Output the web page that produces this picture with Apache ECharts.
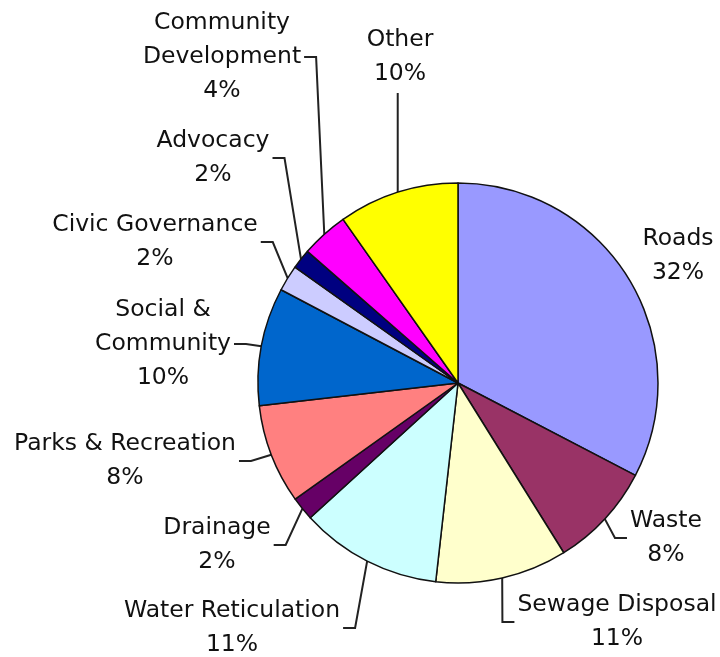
<!DOCTYPE html>
<html>
<head>
<meta charset="utf-8">
<script src="https://cdn.jsdelivr.net/npm/echarts@6/dist/echarts.min.js"></script>
<style>html,body{margin:0;padding:0;background:#fff}#c{width:720px;height:657px}</style>
</head>
<body>
<div id="c"></div>
<script>
// ---- data ----
var categories = ['Roads','Waste','Sewage Disposal','Water Reticulation','Drainage','Parks & Recreation','Social & Community','Civic Governance','Advocacy','Community Development','Other'];
var labelNames = ['Roads','Waste','Sewage Disposal','Water Reticulation','Drainage','Parks & Recreation','Social &\nCommunity','Civic Governance','Advocacy','Community\nDevelopment','Other'];
var shares = [32.49, 8.45, 10.6, 11.4, 1.9, 8.0, 9.5, 2.1, 1.6, 3.8, 9.7];

// ---- styles / layout ----
var colors = ['#9999FF','#993366','#FFFFCC','#CCFFFF','#660066','#FF8080','#0066CC','#CCCCFF','#000080','#FF00FF','#FFFF00'];
var labelAnchor = [[678,256],[666,538],[617,622],[232,628],[217,545],[125,461],[163,344],[155,242],[213,158],[222,57],[400,57]];
var labelSide = ['none','right','right','left','left','left','left','left','left','left','top'];
var CX = 458, CY = 383, R = 200;

var total = shares.reduce(function(a,b){return a+b;},0);
function midAngle(i){
  var s = 0; for (var k=0;k<i;k++) s += shares[k];
  return (s + shares[i]/2) / total * 2 * Math.PI;
}

var chart = echarts.init(document.getElementById('c'), null, {renderer:'canvas'});
chart.setOption({
  backgroundColor: '#ffffff',
  animation: false,
  series: [{
    type: 'pie',
    center: [CX, CY],
    radius: R,
    startAngle: 90,
    clockwise: true,
    avoidLabelOverlap: false,
    itemStyle: { borderColor: '#111', borderWidth: 1.5 },
    label: {
      show: true,
      color: '#111',
      fontFamily: 'DejaVu Sans',
      fontSize: 23.5,
      lineHeight: 34,
      align: 'center',
      formatter: function(p){ return labelNames[p.dataIndex] + '\n' + Math.round(p.value) + '%'; }
    },
    labelLine: { show: true, lineStyle: { color: '#222', width: 2 }, length: 10, length2: 10, smooth: false },
    emphasis: { disabled: true },
    labelLayout: function(params){
      var i = params.dataIndex;
      var a = labelAnchor[i];
      var w = params.labelRect.width, h = params.labelRect.height;
      var th = midAngle(i);
      var start = [CX + R*Math.sin(th), CY - R*Math.cos(th)];
      var side = labelSide[i];
      var pts;
      if (side === 'left') {
        var ex = a[0] + w/2 + 3;
        pts = [start, [ex + 12, a[1]], [ex, a[1]]];
      } else if (side === 'right') {
        var ex2 = a[0] - w/2 - 3;
        pts = [start, [ex2 - 12, a[1]], [ex2, a[1]]];
      } else if (side === 'top') {
        pts = [start, [start[0], a[1] + h/2 + 2]];
      } else {
        pts = [start, start];
      }
      return { x: a[0], y: a[1], align: 'center', verticalAlign: 'middle', labelLinePoints: pts };
    },
    data: categories.map(function(n, i){
      var d = { name: n, value: shares[i], itemStyle: { color: colors[i] } };
      if (labelSide[i] === 'none') d.labelLine = { show: false };
      return d;
    })
  }]
});
</script>
</body>
</html>
